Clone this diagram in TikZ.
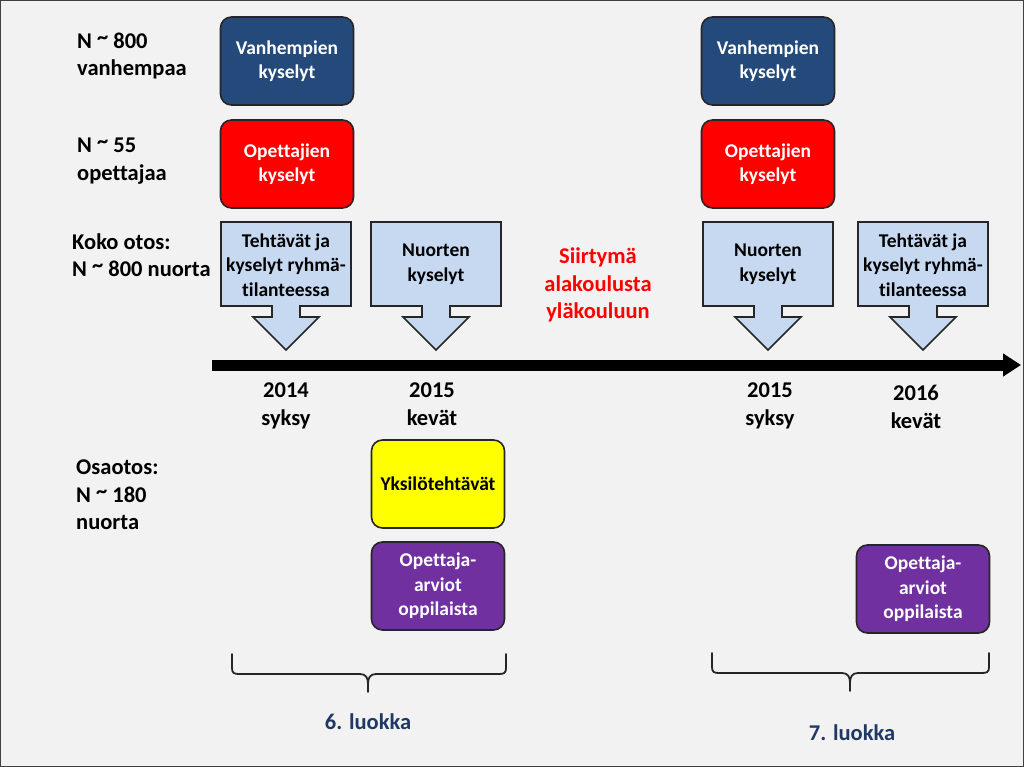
\documentclass[tikz,border=0pt]{standalone}
\usepackage{fontspec}
\setmainfont{Carlito}[Ligatures=NoCommon]
\usetikzlibrary{arrows.meta}

\definecolor{slidebg}{HTML}{F2F2F2}
\definecolor{vanhblue}{HTML}{244A7C}
\definecolor{callblue}{HTML}{C6D9F1}
\definecolor{opred}{HTML}{FF0000}
\definecolor{yksyellow}{HTML}{FFFF00}
\definecolor{arvpurple}{HTML}{7030A0}
\definecolor{luokkablue}{HTML}{1F3864}

\newcommand{\boxfont}{\fontsize{19.5}{24.5}\selectfont\bfseries}
\newcommand{\sidefont}{\fontsize{22.5}{27.5}\selectfont\bfseries}
\newcommand{\noin}{\raisebox{0.35ex}{\textasciitilde}}

\tikzset{
  kysely/.style={draw=black!85, line width=1.6pt, rounded corners=11pt,
    minimum width=133pt, minimum height=88pt, align=center, font=\boxfont,
    text=white, inner sep=0pt},
  callout/.style={draw=black!85, line width=1.6pt, fill=callblue, line join=miter},
  calltext/.style={align=center, font=\boxfont, inner sep=0pt},
  sidetext/.style={align=left, anchor=west, font=\sidefont, inner sep=0pt},
  datetext/.style={align=center, font=\sidefont, inner sep=0pt},
  brace/.style={draw=black!85, line width=1.8pt, line cap=round}
}

% nuoli alaspäin, #1 = keskikohta x
\newcommand{\downcallout}[1]{
  \draw[callout] (#1-65,222) -- (#1+65,222) -- (#1+65,306) -- (#1+14,306)
    -- (#1+14,317) -- (#1+33,317) -- (#1,350) -- (#1-33,317) -- (#1-14,317)
    -- (#1-14,306) -- (#1-65,306) -- cycle;
}

% aaltosulje, #1 = vasen x, #2 = keskikohta x, #3 = oikea x, #4 = ylä y
\newcommand{\luokkabrace}[4]{
  \draw[brace] (#1,#4) -- (#1,#4+14) .. controls (#1,#4+19) and (#1+2,#4+20) .. (#1+7,#4+20)
    -- (#2-8,#4+20) .. controls (#2-2,#4+20) and (#2,#4+24) .. (#2,#4+30) -- (#2,#4+38);
  \draw[brace] (#3,#4) -- (#3,#4+14) .. controls (#3,#4+19) and (#3-2,#4+20) .. (#3-7,#4+20)
    -- (#2+8,#4+20) .. controls (#2+2,#4+20) and (#2,#4+24) .. (#2,#4+30);
}

\begin{document}
\begin{tikzpicture}[x=1pt, y=-1pt]

    % -------------------------------
    % tausta
    % -------------------------------
    \useasboundingbox (0,0) rectangle (1024,767);
    \fill[slidebg] (0,0) rectangle (1024,767);
    \draw[black!75, line width=1pt] (0.5,0.5) rectangle (1023.5,766.5);

    % -------------------------------
    % vasemman reunan otokset
    % -------------------------------
    \node[sidetext] (vanh) at (77,56) {N \noin{} 800\\vanhempaa};
    \node[sidetext] (opet) at (77,161) {N \noin{} 55\\opettajaa};
    \node[sidetext] (koko) at (72,255) {Koko otos:\\N \noin{} 800 nuorta};
    \node[sidetext] (osa) at (76,495) {Osaotos:\\N \noin{} 180\\nuorta};

    % -------------------------------
    % kyselyt
    % -------------------------------
    \foreach \x/\n in {287/1, 768/2} {
        \node[kysely, fill=vanhblue] (vk\n) at (\x,61) {Vanhempien\\kyselyt};
        \node[kysely, fill=opred] (ok\n) at (\x,164) {Opettajien\\kyselyt};
    }

    % nuolet aikajanalle
    \foreach \x in {286, 436, 768, 923} {
        \downcallout{\x}
    }
    \node[calltext] (teht1) at (286,265) {Tehtävät ja\\kyselyt ryhmä-\\tilanteessa};
    \node[calltext] (nuor1) at (436,264) {Nuorten\\kyselyt};
    \node[calltext] (nuor2) at (768,264) {Nuorten\\kyselyt};
    \node[calltext] (teht2) at (923,265) {Tehtävät ja\\kyselyt ryhmä-\\tilanteessa};

    \node[datetext, text=opred] (siirt) at (598,285) {Siirtymä\\alakoulusta\\yläkouluun};

    % -------------------------------
    % aikajana
    % -------------------------------
    \coordinate (alku) at (212,365);
    \coordinate (loppu) at (1021,365);
    \draw[line width=11pt, -{Triangle[length=18pt, width=22pt]}] (alku) -- (loppu);

    \node[datetext] (s14) at (286,406) {2014\\syksy};
    \node[datetext] (k15) at (432,404) {2015\\kevät};
    \node[datetext] (s15) at (770,406) {2015\\syksy};
    \node[datetext] (k16) at (916,407) {2016\\kevät};

    % -------------------------------
    % osaotos
    % -------------------------------
    \node[kysely, fill=yksyellow, text=black] (yks) at (438,484) {Yksilötehtävät};
    \node[kysely, fill=arvpurple] (arv1) at (438,586) {Opettaja-\\arviot\\oppilaista};
    \node[kysely, fill=arvpurple] (arv2) at (923,589) {Opettaja-\\arviot\\oppilaista};

    % -------------------------------
    % luokat
    % -------------------------------
    \luokkabrace{232}{368}{506}{654}
    \luokkabrace{712}{850}{989}{653}

    \node[datetext, text=luokkablue] (lk6) at (368,722) {6. luokka};
    \node[datetext, text=luokkablue] (lk7) at (852,733) {7. luokka};

\end{tikzpicture}
\end{document}
